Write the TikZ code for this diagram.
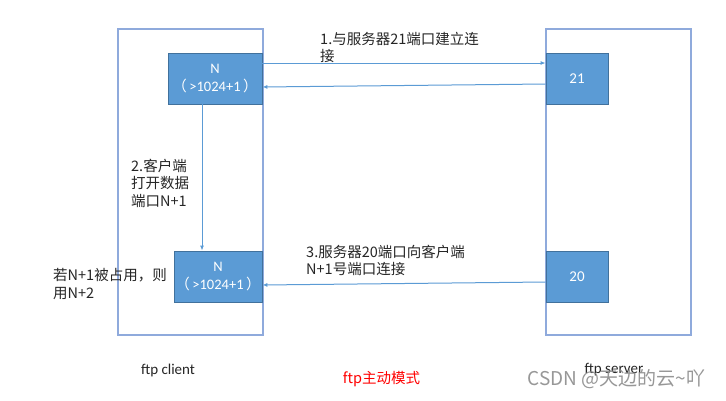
\documentclass[tikz,border=0pt]{standalone}
\usepackage{fontspec}
\setmainfont{Carlito}
\newfontfamily\cjk{Noto Sans CJK SC}
\usetikzlibrary{arrows.meta}
\definecolor{boxfill}{HTML}{5B9BD5}
\definecolor{boxline}{HTML}{41719C}
\definecolor{outerline}{HTML}{8FAADC}
\definecolor{conncol}{HTML}{5B9BD5}
\definecolor{redtxt}{HTML}{FF0000}
\tikzset{
  outerbox/.style={draw=outerline, line width=1.5pt, fill=white, minimum width=145, minimum height=306, inner sep=0},
  portbox/.style={draw=boxline, line width=0.8pt, fill=boxfill, text=white, inner sep=0, align=center, font=\fontsize{14.5}{18}\selectfont},
  conn/.style={draw=conncol, line width=1pt, -{Latex[length=5pt,width=4pt]}},
  label/.style={inner sep=0, anchor=north west, align=left, text=black!85},
}
\begin{document}
\begin{tikzpicture}[x=1pt,y=-1pt]
\useasboundingbox[fill=white] (0,0) rectangle (726,400);
% outer boxes
\node[outerbox] (client) at (190.5,182) {};
\node[outerbox] (server) at (618.5,182) {};
% port boxes
\node[portbox, minimum width=94, minimum height=51] (nA) at (215,78.5) {N\\{\cjk （}\,>1024+1\,{\cjk ）}};
\node[portbox, minimum width=88, minimum height=51] (nB) at (218,276.5) {N\\{\cjk （}\,>1024+1\,{\cjk ）}};
\node[portbox, minimum width=62, minimum height=51, font=\fontsize{15}{18}\selectfont] (s21) at (577,78.5) {21};
\node[portbox, minimum width=62, minimum height=51, font=\fontsize{15}{18}\selectfont] (s20) at (577,276.5) {20};
% connectors
\draw[conn] (nA.east |- 0,63) -- (s21.west |- 0,63);
\draw[conn] (s21.west |- 0,84) -- (nA.east |- 0,87);
\draw[conn] (nA.south -| 202,0) -- (nB.north -| 202,0);
\draw[conn] (s20.west |- 0,282) -- (nB.east |- 0,285);
% labels
\node[label, font=\cjk\fontsize{14.5}{16.5}\selectfont] (t1) at (320,32.5) {1.与服务器21端口建立连\\接};
\node[label, font=\cjk\fontsize{14.5}{17.5}\selectfont] (t2) at (131,158.5) {2.客户端\\打开数据\\端口N+1};
\node[label, font=\cjk\fontsize{14.5}{18}\selectfont] (t3) at (53,268.5) {若N+1被占用，则\\用N+2};
\node[label, font=\cjk\fontsize{14.5}{17}\selectfont] (t4) at (306,244.5) {3.服务器20端口向客户端\\N+1号端口连接};
\node[inner sep=0, font=\fontsize{15}{17}\selectfont, text=black!85] (cl) at (168,370) {ftp client};
\node[inner sep=0, font=\cjk\fontsize{14.5}{17}\selectfont, text=redtxt] (mode) at (381.5,379) {ftp主动模式};
\node[inner sep=0, font=\fontsize{15}{17}\selectfont, text=black!85] (sv) at (614,370) {ftp server};
\node[inner sep=0, font=\cjk\fontsize{19}{22}\selectfont, text=black!45, opacity=0.9] (wm) at (616.5,379) {CSDN @天边的云\textasciitilde 吖};
\end{tikzpicture}
\end{document}
